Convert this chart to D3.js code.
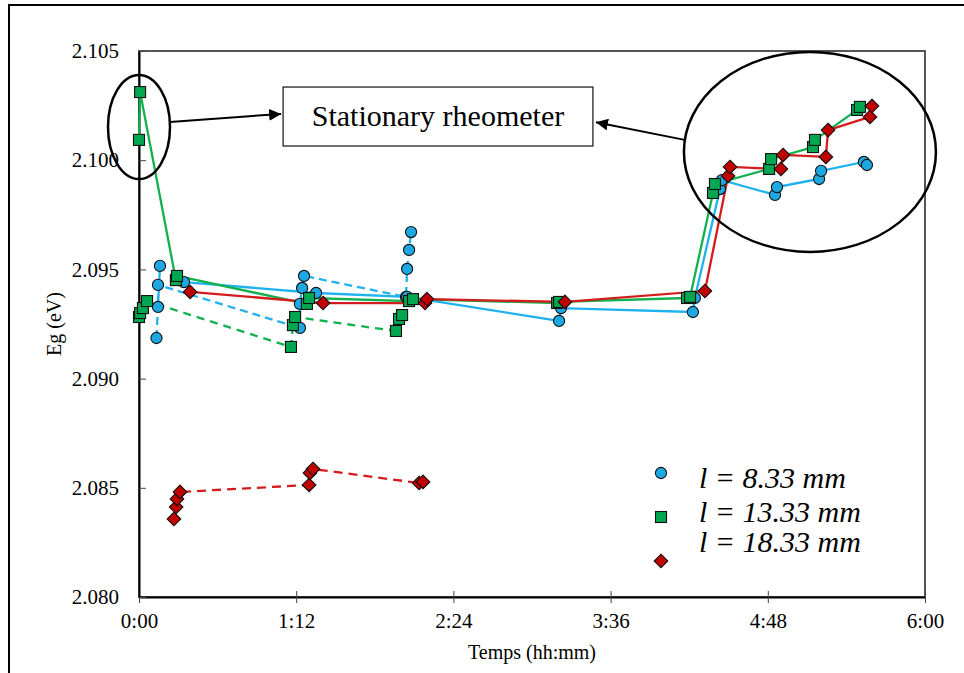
<!DOCTYPE html>
<html>
<head>
<meta charset="utf-8">
<script src="https://cdn.jsdelivr.net/npm/d3@7"></script>
<style>
  body { margin: 0; background: #fff; }
  svg text { font-family: "Liberation Serif", "DejaVu Serif", serif !important; fill: #000; }
</style>
</head>
<body>
<div id="chart"></div>
<script>
/* Eg vs time, three gap lengths, solid = one run, dashed = other run */

// times in minutes, Eg in eV
const timeBlueSolid = [20.6, 81.1, 122.8, 192.4, 193.3, 253.7, 254.6, 266.1, 267.0, 291.3, 292.2, 311.5, 312.4, 332.0, 333.4];
const egBlueSolid   = [2.09442, 2.09392, 2.09374, 2.09264, 2.09323, 2.09305, 2.09369, 2.09868, 2.09909, 2.09841, 2.09877, 2.09914, 2.09951, 2.09992, 2.09978];

const timeGreenSolid = [0, 0.5, 16.9, 17.4, 76.9, 77.9, 123.7, 125.5, 191.5, 192.4, 251.0, 252.4, 262.9, 263.8, 288.6, 289.5, 308.7, 309.6, 328.9, 330.2];
const egGreenSolid   = [2.10093, 2.10312, 2.09451, 2.09470, 2.09342, 2.09369, 2.09355, 2.09364, 2.09346, 2.09351, 2.09369, 2.09374, 2.09850, 2.09891, 2.09960, 2.10005, 2.10060, 2.10093, 2.10230, 2.10244];

const timeRedSolid = [23.4, 84.3, 131.0, 131.9, 195.1, 259.2, 269.8, 270.7, 294.0, 295.0, 314.6, 315.6, 334.8, 335.7];
const egRedSolid   = [2.09397, 2.09346, 2.09346, 2.09364, 2.09351, 2.09401, 2.09928, 2.09969, 2.09960, 2.10024, 2.10015, 2.10138, 2.10198, 2.10248];

const timeBlueDash = [8.0, 9.6, 8.7, 8.7, 73.7, 73.7, 74.7, 75.6, 122.3, 122.8, 123.7, 124.6];
const egBlueDash   = [2.09186, 2.09516, 2.09328, 2.09429, 2.09232, 2.09342, 2.09415, 2.09470, 2.09374, 2.09502, 2.09589, 2.09671];

const timeGreenDash = [0, 0.5, 1.8, 3.7, 69.6, 70.5, 71.5, 117.7, 119.1, 120.5];
const egGreenDash   = [2.09282, 2.09300, 2.09323, 2.09355, 2.09145, 2.09245, 2.09282, 2.09218, 2.09273, 2.09291];

const timeRedDash = [16.0, 17.0, 17.4, 18.8, 77.9, 78.3, 79.7, 128.3, 130.1];
const egRedDash   = [2.08357, 2.08412, 2.08449, 2.08481, 2.08513, 2.08568, 2.08586, 2.08522, 2.08527];

const xTicks = [0, 72, 144, 216, 288, 360];
const xTickLabels = ["0:00", "1:12", "2:24", "3:36", "4:48", "6:00"];
const yTicks = [2.080, 2.085, 2.090, 2.095, 2.100, 2.105];
const legendLabels = ["l = 8.33 mm", "l = 13.33 mm", "l = 18.33 mm"];

const serif = '"Liberation Serif", "DejaVu Serif", serif';
const width = 964, height = 673;
const margin = { top: 51, right: 39, bottom: 76, left: 139 };

const svg = d3.select("#chart").append("svg")
    .attr("width", width)
    .attr("height", height)
    .style("font-family", serif);

// outer frame (left and top edges visible)
svg.append("path")
    .attr("d", `M9,${height}V5H${width}`)
    .attr("fill", "none")
    .attr("stroke", "#000")
    .attr("stroke-width", 2);

const x = d3.scaleLinear().domain([0, 360]).range([margin.left, width - margin.right]);
const y = d3.scaleLinear().domain([2.080, 2.105]).range([height - margin.bottom, margin.top]);

// plot frame
svg.append("rect")
    .attr("x", x(0)).attr("y", y(2.105))
    .attr("width", x(360) - x(0)).attr("height", y(2.080) - y(2.105))
    .attr("fill", "none")
    .attr("stroke", "#555")
    .attr("stroke-width", 2);

// axes
const xAxis = svg.append("g")
    .attr("transform", `translate(0,${y(2.080)})`)
    .call(d3.axisBottom(x).tickValues(xTicks).tickFormat((d, i) => xTickLabels[i]).tickSizeInner(6).tickSizeOuter(0).tickPadding(10))
    .attr("font-family", serif);
xAxis.selectAll(".tick line").attr("y1", -6).attr("stroke", "#444");
xAxis.select(".domain").attr("stroke", "#000").attr("stroke-width", 2);
xAxis.selectAll("text").style("font-size", "21px").style("font-family", serif).attr("fill", "#000");

const yAxis = svg.append("g")
    .attr("transform", `translate(${x(0)},0)`)
    .call(d3.axisLeft(y).tickValues(yTicks).tickFormat(d3.format(".3f")).tickSizeInner(7).tickSizeOuter(0).tickPadding(13))
    .attr("font-family", serif);
yAxis.selectAll(".tick line").attr("x2", 7).attr("stroke", "#444");
yAxis.select(".domain").attr("stroke", "#000").attr("stroke-width", 2);
yAxis.selectAll("text").style("font-size", "21px").style("font-family", serif).attr("fill", "#000");

svg.append("text")
    .attr("x", (x(0) + x(360)) / 2)
    .attr("y", 659)
    .attr("text-anchor", "middle")
    .style("font-size", "20px")
    .text("Temps (hh:mm)");

svg.append("text")
    .attr("transform", `translate(61,${y(2.0925)}) rotate(-90)`)
    .attr("text-anchor", "middle")
    .style("font-size", "20px")
    .text("Eg (eV)");

// series table
const diamond = "M0,-6.8L6.8,0L0,6.8L-6.8,0Z";
const series = [
    { t: timeBlueDash,   e: egBlueDash,   line: "#1fb2ee", dash: "8,5", fill: "#1ea8e2", shape: "circle" },
    { t: timeGreenDash,  e: egGreenDash,  line: "#12b04e", dash: "8,6", fill: "#00a650", shape: "square" },
    { t: timeRedDash,    e: egRedDash,    line: "#d41c1c", dash: "9,6", fill: "#c00000", shape: "diamond" },
    { t: timeBlueSolid,  e: egBlueSolid,  line: "#1fb2ee", dash: null,  fill: "#1ea8e2", shape: "circle" },
    { t: timeGreenSolid, e: egGreenSolid, line: "#12b04e", dash: null,  fill: "#00a650", shape: "square" },
    { t: timeRedSolid,   e: egRedSolid,   line: "#d41c1c", dash: null,  fill: "#c00000", shape: "diamond" }
];
series.forEach(s => s.pts = s.t.map((t, i) => [t, s.e[i]]));

const line = d3.line().x(d => x(d[0])).y(d => y(d[1]));

svg.append("g").selectAll("path")
    .data(series)
    .join("path")
    .attr("d", s => line(s.pts))
    .attr("fill", "none")
    .attr("stroke", s => s.line)
    .attr("stroke-width", 2.3)
    .attr("stroke-dasharray", s => s.dash);

function drawMarker(g, shape, fill, px, py) {
    if (shape === "circle") {
        g.append("circle").attr("cx", px).attr("cy", py).attr("r", 5.6)
            .attr("fill", fill).attr("stroke", "#111").attr("stroke-width", 1.1);
    } else if (shape === "square") {
        g.append("rect").attr("x", px - 5.5).attr("y", py - 5.5).attr("width", 11).attr("height", 11)
            .attr("fill", fill).attr("stroke", "#111").attr("stroke-width", 1.1);
    } else {
        g.append("path").attr("d", diamond).attr("transform", `translate(${px},${py})`)
            .attr("fill", fill).attr("stroke", "#111").attr("stroke-width", 1.1);
    }
}

// markers: blue first, then green, then red on top
const markers = svg.append("g");
[0, 3, 1, 4, 2, 5].forEach(k => {
    const s = series[k];
    s.pts.forEach(p => drawMarker(markers, s.shape, s.fill, x(p[0]), y(p[1])));
});

// annotations
const ann = svg.append("g").attr("fill", "none").attr("stroke", "#000").attr("stroke-width", 2.5);
ann.append("ellipse").attr("cx", x(0)).attr("cy", y(2.10152)).attr("rx", 31).attr("ry", 52);
ann.append("ellipse").attr("cx", x(307.3)).attr("cy", y(2.10038)).attr("rx", 126).attr("ry", 100);

svg.append("rect")
    .attr("x", x(66)).attr("y", y(2.10335))
    .attr("width", x(207.9) - x(66)).attr("height", y(2.10065) - y(2.10335))
    .attr("fill", "#fff").attr("stroke", "#222").attr("stroke-width", 1.3);
svg.append("text")
    .attr("x", (x(66) + x(207.9)) / 2)
    .attr("y", y(2.10155))
    .attr("text-anchor", "middle")
    .style("font-size", "30px")
    .text("Stationary rheometer");

svg.append("defs").append("marker")
    .attr("id", "arrow")
    .attr("viewBox", "0 0 10 10")
    .attr("refX", 10).attr("refY", 5)
    .attr("markerWidth", 6).attr("markerHeight", 6)
    .attr("markerUnits", "strokeWidth")
    .attr("orient", "auto")
    .append("path").attr("d", "M0,0L10,5L0,10Z").attr("fill", "#000");

const arrows = [
    [[x(14.2), y(2.10175)], [x(65.1), y(2.10212)]],
    [[x(250.5), y(2.10092)], [x(209.3), y(2.10174)]]
];
svg.append("g").selectAll("line")
    .data(arrows)
    .join("line")
    .attr("x1", d => d[0][0]).attr("y1", d => d[0][1])
    .attr("x2", d => d[1][0]).attr("y2", d => d[1][1])
    .attr("stroke", "#000").attr("stroke-width", 2)
    .attr("marker-end", "url(#arrow)");

// legend
const legend = svg.append("g");
const shapes = ["circle", "square", "diamond"];
const fills = ["#1ea8e2", "#00a650", "#c00000"];
const legendMarkY = [473, 517, 561];
const legendTextY = [488, 522, 552];
shapes.forEach((sh, i) => {
    drawMarker(legend, sh, fills[i], 661, legendMarkY[i]);
    legend.append("text")
        .attr("x", 699).attr("y", legendTextY[i])
        .style("font-size", "30px").style("font-style", "italic")
        .text(legendLabels[i]);
});
</script>
</body>
</html>
